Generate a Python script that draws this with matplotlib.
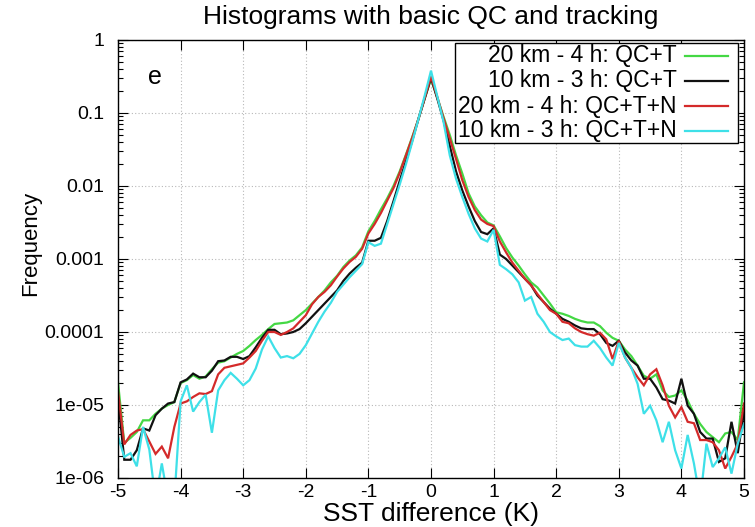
import numpy as np
import matplotlib
matplotlib.use('Agg')
import matplotlib.pyplot as plt
from matplotlib.ticker import LogLocator, FixedLocator, NullFormatter
from matplotlib.lines import Line2D
from matplotlib.patches import Rectangle

plt.rcParams['font.family'] = ['Liberation Sans', 'DejaVu Sans']

# bin centres of the SST difference histograms (K), bin width 0.1 K
sst_diff = np.linspace(-5.0, 5.0, 101)

# log10(frequency), x = -5.0 ... 5.0 step 0.1
log_green = [  # 20 km - 4 h: QC+T
    -4.69, -5.52, -5.45, -5.37, -5.21, -5.21, -5.12, -5.05, -5.00, -4.96,
    -4.70, -4.66, -4.59, -4.64, -4.61, -4.51, -4.42, -4.40, -4.35, -4.30,
    -4.26, -4.19, -4.11, -4.04, -3.96, -3.89, -3.88, -3.87, -3.84, -3.77,
    -3.70, -3.61, -3.52, -3.43, -3.32, -3.23, -3.11, -3.02, -2.95, -2.84,
    -2.62, -2.48, -2.32, -2.17, -2.00, -1.80, -1.57, -1.33, -1.08, -0.80,
    -0.53,
    -0.79, -1.05, -1.30, -1.58, -1.83, -2.10, -2.28, -2.40, -2.50, -2.54,
    -2.69, -2.85, -2.98, -3.09, -3.21, -3.32, -3.39, -3.50, -3.61, -3.73,
    -3.75, -3.78, -3.82, -3.85, -3.87, -3.87, -3.92, -4.01, -4.08, -4.12,
    -4.24, -4.33, -4.46, -4.60, -4.64, -4.58, -4.80, -4.89, -4.87, -4.80,
    -4.94, -5.12, -5.26, -5.37, -5.44, -5.51, -5.39, -5.37, -5.48, -4.69,
]
log_black = [  # 10 km - 3 h: QC+T
    -4.90, -5.75, -5.75, -5.62, -5.32, -5.35, -5.14, -5.05, -4.98, -4.96,
    -4.69, -4.65, -4.57, -4.62, -4.62, -4.53, -4.40, -4.39, -4.34, -4.34,
    -4.37, -4.33, -4.21, -4.08, -3.97, -3.97, -4.03, -4.02, -4.00, -3.96,
    -3.88, -3.79, -3.70, -3.61, -3.52, -3.43, -3.30, -3.20, -3.12, -3.05,
    -2.75, -2.75, -2.71, -2.48, -2.21, -1.93, -1.66, -1.38, -1.08, -0.80,
    -0.52,
    -0.80, -1.10, -1.45, -1.80, -2.06, -2.28, -2.48, -2.63, -2.66, -2.58,
    -2.94, -3.00, -3.09, -3.18, -3.27, -3.36, -3.50, -3.59, -3.68, -3.75,
    -3.82, -3.86, -3.91, -3.95, -3.96, -3.96, -4.03, -4.15, -4.19, -4.12,
    -4.28, -4.39, -4.46, -4.64, -4.64, -4.76, -4.92, -4.94, -4.98, -4.64,
    -5.01, -5.12, -5.37, -5.46, -5.46, -5.78, -5.73, -5.23, -5.66, -5.10,
]
log_red = [  # 20 km - 4 h: QC+T+N
    -4.81, -5.54, -5.41, -5.35, -5.33, -5.50, -5.67, -5.57, -5.73, -5.30,
    -4.98, -4.95, -4.89, -4.84, -4.85, -4.81, -4.58, -4.49, -4.47, -4.45,
    -4.43, -4.35, -4.26, -4.12, -4.00, -4.00, -4.04, -4.00, -3.95, -3.86,
    -3.77, -3.62, -3.52, -3.45, -3.36, -3.24, -3.13, -3.04, -2.97, -2.86,
    -2.65, -2.52, -2.37, -2.20, -2.03, -1.82, -1.58, -1.34, -1.08, -0.79,
    -0.50,
    -0.78, -1.07, -1.35, -1.63, -1.92, -2.15, -2.33, -2.46, -2.52, -2.55,
    -2.76, -2.91, -3.05, -3.16, -3.27, -3.36, -3.48, -3.59, -3.70, -3.75,
    -3.86, -3.88, -3.95, -4.00, -4.03, -4.05, -4.01, -4.10, -4.37, -4.12,
    -4.35, -4.49, -4.62, -4.73, -4.58, -4.51, -4.73, -5.01, -5.17, -5.03,
    -5.23, -5.25, -5.48, -5.48, -5.51, -5.62, -5.87, -5.71, -5.53, -4.98,
]
log_cyan = [  # 10 km - 3 h: QC+T+N
    -5.43, -5.71, -5.66, -5.84, -5.30, -5.61, -6.30, -5.80, -6.30, -6.30,
    -4.95, -4.73, -5.09, -4.96, -4.86, -5.38, -4.80, -4.66, -4.56, -4.64,
    -4.73, -4.66, -4.50, -4.24, -4.06, -4.22, -4.35, -4.33, -4.36, -4.30,
    -4.18, -4.02, -3.86, -3.72, -3.60, -3.45, -3.35, -3.25, -3.16, -3.07,
    -2.77, -2.82, -2.79, -2.52, -2.25, -1.98, -1.70, -1.40, -1.08, -0.76,
    -0.42,
    -0.77, -1.12, -1.58, -1.90, -2.15, -2.38, -2.58, -2.72, -2.76, -2.60,
    -3.08, -3.14, -3.21, -3.32, -3.57, -3.52, -3.75, -3.86, -4.00, -4.06,
    -4.11, -4.09, -4.18, -4.20, -4.20, -4.12, -4.22, -4.35, -4.46, -4.15,
    -4.35, -4.49, -4.71, -5.12, -5.01, -5.21, -5.51, -5.23, -5.62, -5.87,
    -5.41, -5.80, -6.30, -5.53, -5.85, -5.73, -5.58, -5.94, -5.53, -5.26,
]

labels = ["20 km - 4 h: QC+T", "10 km - 3 h: QC+T",
          "20 km - 4 h: QC+T+N", "10 km - 3 h: QC+T+N"]
colors = ["#44d844", "#111111", "#d42a2a", "#3ee0e8"]
series = [log_green, log_black, log_red, log_cyan]

ytick_vals = [1e-6, 1e-5, 1e-4, 1e-3, 1e-2, 1e-1, 1]
ytick_labels = ["1e-06", "1e-05", "0.0001", "0.001", "0.01", "0.1", "1"]
xtick_vals = [-5, -4, -3, -2, -1, 0, 1, 2, 3, 4, 5]
xtick_labels = ["-5", "-4", "-3", "-2", "-1", "0", "1", "2", "3", "4", "5"]

W, H = 755, 527
fig = plt.figure(figsize=(W / 100, H / 100), dpi=100)
L, R, T, B = 118, 744, 40, 478
ax = fig.add_axes([L / W, 1 - B / H, (R - L) / W, (B - T) / H])

for vals, col in zip(series, colors):
    ax.plot(sst_diff, 10 ** np.array(vals), color=col, lw=1.6, solid_joinstyle='miter')

ax.set_yscale('log')
ax.set_xlim(-5, 5)
ax.set_ylim(1e-6, 1)
ax.yaxis.set_major_locator(FixedLocator(ytick_vals))
ax.set_yticklabels(ytick_labels)
ax.yaxis.set_minor_locator(LogLocator(base=10, subs=np.arange(2, 10)))
ax.yaxis.set_minor_formatter(NullFormatter())
ax.set_xticks(xtick_vals)
ax.set_xticklabels(xtick_labels)

ax.grid(True, which='major', linestyle=(0, (1, 2)), color='#b8b8b8', linewidth=0.8)
ax.tick_params(which='both', direction='in', top=True, right=True, width=0.8,
               labelsize=14)
ax.tick_params(which='major', length=7)
ax.tick_params(which='minor', length=3.5)
ax.tick_params(axis='y', pad=10)
ax.tick_params(axis='x', pad=4)
for s in ax.spines.values():
    s.set_linewidth(1.0)

ax.set_xlabel("SST difference (K)", fontsize=19)
ax.xaxis.set_label_coords(0.5, -(514 - B) / (B - T), transform=ax.transAxes)
ax.set_ylabel("Frequency", fontsize=16)
ax.yaxis.set_label_coords(-(L - 31) / (R - L), (B - 243) / (B - T), transform=ax.transAxes)
for lab in (ax.xaxis.label, ax.yaxis.label):
    lab.set_verticalalignment('center')

fig.text(431 / W, 1 - 17 / H, "Histograms with basic QC and tracking",
         ha='center', va='center', fontsize=19)

ax.text((155 - L) / (R - L), (B - 77) / (B - T), "e", fontsize=18,
        ha='center', va='center', transform=ax.transAxes)

# gnuplot-style key: right-aligned text, line sample on the right
def ax_x(px):
    return (px - L) / (R - L)

def ax_y(py):
    return (B - py) / (B - T)

ax.add_patch(Rectangle((ax_x(455), ax_y(143)), ax_x(738) - ax_x(455),
                       ax_y(43) - ax_y(143), transform=ax.transAxes,
                       facecolor='white', edgecolor='black', lw=1.0, zorder=5))
for i, (lab, col) in enumerate(zip(labels, colors)):
    yy = ax_y(56 + 25 * i)
    ax.text(ax_x(677), yy, lab, ha='right', va='center', fontsize=16.5,
            transform=ax.transAxes, zorder=6)
    ax.add_line(Line2D([ax_x(685), ax_x(728)], [yy, yy], color=col, lw=1.6,
                       transform=ax.transAxes, zorder=6))

fig.savefig("out.png", dpi=100)
